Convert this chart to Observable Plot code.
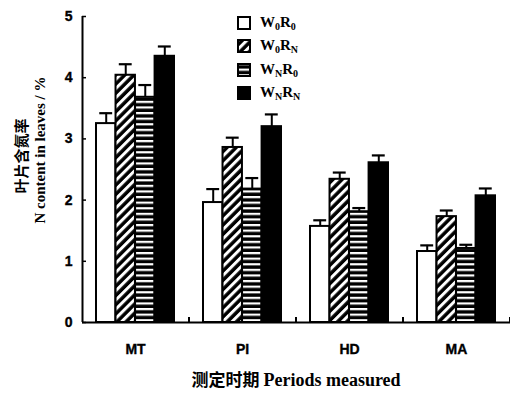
<!DOCTYPE html>
<html>
<head>
<meta charset="utf-8">
<script src="https://cdn.jsdelivr.net/npm/d3@7"></script>
<script src="https://cdn.jsdelivr.net/npm/@observablehq/plot@0.6"></script>
<style>
  body { margin: 0; background: #fff; }
  #wrap { position: relative; width: 510px; height: 393px; }
  .legend { position: absolute; left: 237px; top: 11px; font: bold 15px "Liberation Serif", serif; color: #000; }
  .legend .row { display: flex; align-items: center; height: 23.5px; }
  .legend svg { margin-right: 9px; }
  .legend sub { font-size: 10px; vertical-align: -3px; }
  .ytl { position: absolute; left: 0; top: 0; transform-origin: 0 0; white-space: nowrap; }
  .cn { font-family: "Noto Sans CJK SC", sans-serif; font-weight: bold; }
  .en { font-family: "Liberation Serif", serif; font-weight: bold; }
  .xtitle { position: absolute; left: 0; width: 510px; top: 369px; text-align: center; padding-left: 82px; box-sizing: border-box; line-height: 20px; }
  .tick text { stroke: black; stroke-width: 0.35px; }
</style>
</head>
<body>
<div id="wrap"></div>
<script>
const periods = ["MT", "PI", "HD", "MA"];
const treatments = ["W0R0", "W0RN", "WNR0", "WNRN"];
const w0r0 = [3.25, 1.96, 1.57, 1.16];
const w0r0Err = [0.17, 0.22, 0.10, 0.10];
const w0rn = [4.04, 2.86, 2.34, 1.73];
const w0rnErr = [0.18, 0.16, 0.11, 0.10];
const wnr0 = [3.68, 2.18, 1.81, 1.21];
const wnr0Err = [0.20, 0.18, 0.06, 0.06];
const wnrn = [4.35, 3.20, 2.61, 2.07];
const wnrnErr = [0.16, 0.20, 0.12, 0.12];
const yTicks = [0, 1, 2, 3, 4, 5];

const series = [[w0r0, w0r0Err], [w0rn, w0rnErr], [wnr0, wnr0Err], [wnrn, wnrnErr]];
const data = [];
treatments.forEach((t, k) => periods.forEach((p, i) => data.push({period: p, treatment: t, value: series[k][0][i], err: series[k][1][i]})));

const fills = ["white", "url(#diag)", "url(#horiz)", "black"];

const W = 510, H = 393, mL = 82, mR = 0, mT = 16, mB = 71;
const pInner = 0.27, pOuter = 0.135;
const step = (W - mL - mR) / (periods.length - pInner + 2 * pOuter);
const bw = step * (1 - pInner);
const sub = bw / 4;
const cap = 6.5;

const marks = [];
treatments.forEach((t, k) => {
  const rows = data.filter(d => d.treatment === t);
  marks.push(Plot.barY(rows, {x: "period", y: "value", fill: fills[k], stroke: "black", strokeWidth: 2,
    insetLeft: k * sub, insetRight: (3 - k) * sub}));
  marks.push(Plot.ruleX(rows, {x: "period", y1: "value", y2: d => d.value + d.err, stroke: "black", strokeWidth: 2,
    dx: (k - 1.5) * sub}));
  marks.push(Plot.tickY(rows, {x: "period", y: d => d.value + d.err, stroke: "black", strokeWidth: 2.2,
    insetLeft: k * sub + sub / 2 - cap, insetRight: (3 - k) * sub + sub / 2 - cap}));
});
marks.push(Plot.ruleY([0], {stroke: "black", strokeWidth: 2}));
marks.push(Plot.axisY({ticks: yTicks, tickFormat: d => d, tickSize: -4, tickPadding: 14, label: null, strokeWidth: 1.5, className: "tick"}));
marks.push(Plot.ruleX([0], {x: () => periods[0], dx: -step / 2 + 0.5, y1: 0, y2: 5, stroke: "black", strokeWidth: 2}));
marks.push(Plot.axisX({tickSize: 0, tickPadding: 22, label: null, className: "tick"}));
marks.push(Plot.axisX({tickSize: -5, dx: step / 2, tickFormat: () => "", label: null, strokeWidth: 2}));

const chart = Plot.plot({
  width: W, height: H,
  marginLeft: mL, marginRight: mR, marginTop: mT, marginBottom: mB,
  style: {fontFamily: "'Liberation Sans', Arial, sans-serif", fontSize: "14px", fontWeight: "bold", color: "black", background: "white"},
  x: {domain: periods, paddingInner: pInner, paddingOuter: pOuter, axis: null},
  y: {domain: [0, 5], axis: null},
  marks
});

// patterns
const ns = "http://www.w3.org/2000/svg";
const defs = document.createElementNS(ns, "defs");
defs.innerHTML = `
<pattern id="diag" patternUnits="userSpaceOnUse" width="6.5" height="6.5" patternTransform="rotate(45)">
  <rect width="6.5" height="6.5" fill="black"/>
  <rect width="3" height="6.5" fill="white"/>
</pattern>
<pattern id="horiz" patternUnits="userSpaceOnUse" width="4" height="5.6">
  <rect width="4" height="5.6" fill="black"/>
  <rect width="4" height="2.2" fill="white"/>
</pattern>`;
chart.insertBefore(defs, chart.firstChild);

const wrap = document.getElementById("wrap");
wrap.appendChild(chart);

// legend
const labels = [["W", "0", "R", "0"], ["W", "0", "R", "N"], ["W", "N", "R", "0"], ["W", "N", "R", "N"]];
const legend = document.createElement("div");
legend.className = "legend";
treatments.forEach((t, k) => {
  const row = document.createElement("div");
  row.className = "row";
  const [a, b, c, d] = labels[k];
  row.innerHTML = `<svg width="14" height="14"><rect x="1" y="1" width="12" height="12" fill="${fills[k]}" stroke="black" stroke-width="2"/></svg><span>${a}<sub>${b}</sub>${c}<sub>${d}</sub></span>`;
  legend.appendChild(row);
});
wrap.appendChild(legend);

// y title (two rotated lines)
function yLine(html, cls, size, x, yc) {
  const el = document.createElement("div");
  el.className = "ytl " + cls;
  el.style.fontSize = size + "px";
  el.style.lineHeight = size + "px";
  el.style.transform = `translate(${x}px, ${yc}px) rotate(-90deg) translate(-50%, 0)`;
  el.innerHTML = html;
  wrap.appendChild(el);
}
yLine("叶片含氮率", "cn", 15, 13, 156);
yLine("N content in leaves / %", "en", 15, 33, 150);

// x title
const xt = document.createElement("div");
xt.className = "xtitle";
xt.innerHTML = `<span class="cn" style="font-size:17px">测定时期</span> <span class="en" style="font-size:18px">Periods measured</span>`;
wrap.appendChild(xt);
</script>
</body>
</html>
